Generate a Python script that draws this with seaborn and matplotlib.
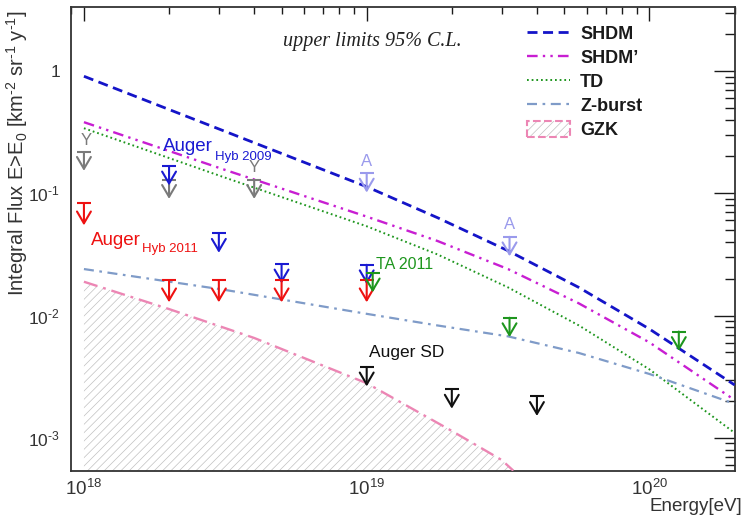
import matplotlib
matplotlib.use("Agg")
import matplotlib.pyplot as plt
import seaborn as sns
from matplotlib.lines import Line2D
from matplotlib.patches import Patch
from matplotlib.ticker import LogLocator, FixedLocator, FixedFormatter, NullFormatter

sns.set_theme(style="white")
plt.rcParams["font.family"] = ["Liberation Sans", "DejaVu Sans"]
plt.rcParams["mathtext.fontset"] = "custom"
plt.rcParams["mathtext.rm"] = "Liberation Sans"
plt.rcParams["mathtext.it"] = "Liberation Sans:italic"
plt.rcParams["mathtext.bf"] = "Liberation Sans:bold"
plt.rcParams["hatch.linewidth"] = 0.5

# ---- model predictions: integral flux [km^-2 sr^-1 yr^-1] vs energy [eV]
energy_model = [1e18, 3.16e18, 1e19, 1.78e19, 3.16e19, 5.62e19, 1e20, 2e20]
flux_shdm = [0.904, 0.320, 0.113, 0.0631, 0.0339, 0.0170, 7.76e-3, 2.71e-3]
flux_shdm_prime = [0.381, 0.155, 0.0644, 0.0407, 0.0240, 0.0126, 6.03e-3, 2.04e-3]
flux_td = [0.340, 0.134, 0.0537, 0.0316, 0.0170, 8.32e-3, 3.63e-3, 1.10e-3]
flux_zburst = [0.0240, 0.0162, 0.01033, 8.3e-3, 6.76e-3, 4.95e-3, 3.33e-3, 1.90e-3]

energy_gzk = [1e18, 2e18, 4e18, 1e19, 2e19, 3e19, 3.3e19]
flux_gzk = [0.0189, 0.0113, 6.56e-3, 2.80e-3, 1.14e-3, 6.6e-4, 5.4e-4]

# ---- 95% C.L. upper limits
photon_E = [1e18, 2e18, 4e18]
photon_lim = [0.217, 0.128, 0.128]
hyb2009_E = [2e18, 3e18, 5e18, 1e19]
hyb2009_lim = [0.167, 0.047, 0.0264, 0.026]
hyb2011_E = [1e18, 2e18, 3e18, 5e18, 1e19]
hyb2011_lim = [0.083, 0.0195, 0.0195, 0.0195, 0.0195]
agasa_E = [1e19, 3.2e19]
agasa_lim = [0.146, 0.044]
ta2011_E = [1.05e19, 3.2e19, 1.27e20]
ta2011_lim = [0.0223, 0.0096, 0.0074]
sd_E = [1e19, 2e19, 4e19]
sd_lim = [3.8e-3, 2.5e-3, 2.18e-3]

x_major = [1e18, 1e19, 1e20]
x_major_labels = ["$10^{18}$", "$10^{19}$", "$10^{20}$"]
y_major = [1e-3, 1e-2, 1e-1, 1]
y_major_labels = ["$10^{\u20103}$", "$10^{\u20102}$", "$10^{\u20101}$", "1"]

XMIN, XMAX = 0.9e18, 2.0e20
YMIN, YMAX = 5.36e-4, 3.35

C_SHDM = "#1414c8"
C_SHDMP = "#c81ed2"
C_TD = "#1e961e"
C_ZB = "#7f9bc8"
C_GZK = "#ec86b4"
C_HATCH = "#c0c0c0"

LS_SHDM = (0, (3.6, 2.0))
LS_SHDMP = (0, (4.5, 2.2, 1.0, 2.2, 1.0, 2.2))
LS_TD = (0, (0.9, 1.5))
LS_ZB = (0, (4.5, 2.5, 1.2, 2.5))
LS_GZK = (0, (6, 2.5, 1.2, 2.5))

fig = plt.figure(figsize=(7.45, 5.18), dpi=100)
ax = fig.add_axes([0.0953, 0.0907, 0.8907, 0.8964])
ax.set_xscale("log")
ax.set_yscale("log")

# GZK band
ax.fill_between(energy_gzk, flux_gzk, YMIN, facecolor="none", edgecolor=C_HATCH,
                hatch="////", linewidth=0, zorder=1)

curves = [
    (flux_shdm, C_SHDM, LS_SHDM, 2.0),
    (flux_shdm_prime, C_SHDMP, LS_SHDMP, 1.7),
    (flux_td, C_TD, LS_TD, 1.4),
    (flux_zburst, C_ZB, LS_ZB, 1.6),
]
for flux, color, ls, lw in curves:
    sns.lineplot(x=energy_model, y=flux, ax=ax, color=color, linestyle=ls,
                 linewidth=lw, zorder=3)
sns.lineplot(x=energy_gzk, y=flux_gzk, ax=ax, color=C_GZK, linestyle=LS_GZK,
             linewidth=1.7, zorder=3)


def draw_limits(energies, limits, color, length=15):
    ax.plot(energies, limits, ls="none", marker="_", ms=9.8, mew=1.5,
            color=color, zorder=5)
    for e, v in zip(energies, limits):
        ax.annotate("", xy=(e, v), xytext=(0, -length), textcoords="offset points",
                    arrowprops=dict(arrowstyle="<-,head_length=0.85,head_width=0.5",
                                    mutation_scale=10, color=color, lw=1.5,
                                    shrinkA=0, shrinkB=0),
                    zorder=5)


draw_limits(photon_E, photon_lim, "#7a7a7a", 13.5)
draw_limits(hyb2009_E, hyb2009_lim, "#1a1ad2", 14)
draw_limits(hyb2011_E, hyb2011_lim, "#ee1111", 16)
draw_limits(agasa_E, agasa_lim, "#9a9aec", 14)
draw_limits(ta2011_E, ta2011_lim, "#1e961e", 14)
draw_limits(sd_E, sd_lim, "#111111", 14)

# annotations
ax.text(1.9e18, 0.243, "Auger", color="#1a1ad2", fontsize=13.5, va="center")
ax.text(2.9e18, 0.197, "Hyb 2009", color="#1a1ad2", fontsize=9.5, va="center")
ax.text(1.06e18, 0.0414, "Auger", color="#ee1111", fontsize=13.5, va="center")
ax.text(1.6e18, 0.035, "Hyb 2011", color="#ee1111", fontsize=9.5, va="center")
ax.text(1.08e19, 0.026, "TA 2011", color="#1e961e", fontsize=11.5, va="center")
ax.text(1.02e19, 5.0e-3, "Auger SD", color="#111111", fontsize=12.5, va="center")
ax.text(1.02e18, 0.272, "Y", color="#7a7a7a", fontsize=12, ha="center", va="center")
ax.text(4e18, 0.162, "Y", color="#7a7a7a", fontsize=12, ha="center", va="center")
ax.text(1e19, 0.181, "A", color="#9a9aec", fontsize=12, ha="center", va="center")
ax.text(3.2e19, 0.056, "A", color="#9a9aec", fontsize=12, ha="center", va="center")
ax.text(0.4537, 0.926, "upper limits 95% C.L.", transform=ax.transAxes,
        fontsize=14.5, style="italic", family="Liberation Serif", ha="center",
        va="center", color="#222222")

# legend
handles = [
    Line2D([], [], color=C_SHDM, linestyle=LS_SHDM, lw=2.0),
    Line2D([], [], color=C_SHDMP, linestyle=LS_SHDMP, lw=1.7),
    Line2D([], [], color=C_TD, linestyle=LS_TD, lw=1.4),
    Line2D([], [], color=C_ZB, linestyle=LS_ZB, lw=1.6),
    (Patch(facecolor="none", edgecolor=C_HATCH, hatch="////", lw=0),
     Patch(facecolor="none", edgecolor=C_GZK, linestyle="--", lw=1.5)),
]
labels = ["SHDM", "SHDM\u2019", "TD", "Z-burst", "GZK"]
leg = ax.legend(handles, labels, loc="upper left", bbox_to_anchor=(0.687, 0.96),
                frameon=False, borderpad=0, borderaxespad=0, handlelength=2.4,
                handletextpad=0.55, labelspacing=0.33, handleheight=0.95,
                prop={"weight": "bold", "size": 13})
for t in leg.get_texts():
    t.set_color("#1a1a1a")

# axes
ax.set_xlim(XMIN, XMAX)
ax.set_ylim(YMIN, YMAX)
ax.xaxis.set_major_locator(FixedLocator(x_major))
ax.xaxis.set_major_formatter(FixedFormatter(x_major_labels))
ax.xaxis.set_minor_locator(LogLocator(base=10, subs=range(2, 10), numticks=20))
ax.xaxis.set_minor_formatter(NullFormatter())
ax.yaxis.set_major_locator(FixedLocator(y_major))
ax.yaxis.set_major_formatter(FixedFormatter(y_major_labels))
ax.yaxis.set_minor_locator(LogLocator(base=10, subs=range(2, 10), numticks=20))
ax.yaxis.set_minor_formatter(NullFormatter())

ax.tick_params(axis="both", which="both", direction="in", top=True, right=True,
               colors="#1a1a1a", labelcolor="#333333")
ax.tick_params(axis="x", which="major", length=10, width=1.0, pad=6, labelsize=13.5)
ax.tick_params(axis="x", which="minor", length=5, width=1.0)
ax.tick_params(axis="y", which="major", length=15, width=1.0, pad=8, labelsize=12.5)
ax.tick_params(axis="y", which="minor", length=7.5, width=1.0)
for s in ax.spines.values():
    s.set_color("#333333")
    s.set_linewidth(1.3)

ax.set_xlabel("Energy[eV]", fontsize=13.5, color="#333333", loc="right")
ax.xaxis.set_label_coords(1.011, -0.058)
ax.set_ylabel("Integral Flux E>E$_{0}$ [km$^{\u20102}$ sr$^{\u20101}$ y$^{\u20101}$]",
              fontsize=14.5, color="#333333", loc="top")
ax.yaxis.set_label_coords(-0.0620, 0.993)

fig.savefig("out.png", dpi=100)
